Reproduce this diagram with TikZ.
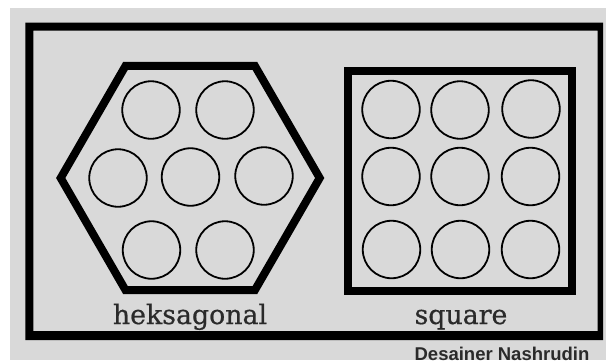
\documentclass[tikz,border=0pt]{standalone}
\usepackage{fontspec}
\newfontfamily\labelfont[FakeBold=0.6]{DejaVu Serif}
\newfontfamily\signfont{Liberation Sans}
\definecolor{bggray}{HTML}{D9D9D9}
\definecolor{txtgray}{HTML}{2A2A2A}
\begin{document}
\begin{tikzpicture}[x=1pt,y=-1pt,
  cell/.style={circle,draw=black,line width=1.8pt,minimum size=57.5pt,inner sep=0pt},
  bigline/.style={draw=black,line width=8pt,line join=miter},
  lbl/.style={anchor=base,text=txtgray,inner sep=0pt,font=\labelfont\fontsize{26.8}{30}\selectfont},
  sign/.style={anchor=base,text=txtgray,inner sep=0pt,font=\signfont\bfseries\fontsize{18.5}{20}\selectfont}]
\useasboundingbox (0,0) rectangle (606,360);
\clip (0,0) rectangle (606,360);
% background
\fill[bggray] (10,7.5) rectangle (606,360);
% outer frame
\fill[black,even odd rule] (25.3,22.7) rectangle (603,340) (33.3,30.7) rectangle (597.5,331);
% hexagon
\draw[bigline] (60.7,178) -- (125.5,65.9) -- (254.9,65.9) -- (319.7,178) -- (254.9,290.1) -- (125.5,290.1) -- cycle;
% square box
\draw[bigline] (348,70.5) rectangle (571.5,290.5);
% hexagonal circles
\node[cell] (h1) at (151,110) {};
\node[cell] (h2) at (225,110) {};
\node[cell] (h3) at (118,178) {};
\node[cell] (h4) at (190.5,177) {};
\node[cell] (h5) at (264,176) {};
\node[cell] (h6) at (151.5,250) {};
\node[cell] (h7) at (225,250) {};
% square circles
\node[cell] (s1) at (391,109.5) {};
\node[cell] (s2) at (460,110) {};
\node[cell] (s3) at (531,109) {};
\node[cell] (s4) at (391,176.5) {};
\node[cell] (s5) at (460,176.5) {};
\node[cell] (s6) at (530.5,176.5) {};
\node[cell] (s7) at (391.5,249.5) {};
\node[cell] (s8) at (460.5,249.5) {};
\node[cell] (s9) at (530.5,249.5) {};
% labels
\node[lbl] (lhex) at (190,324) {heksagonal};
\node[lbl] (lsq) at (461,324) {square};
\node[sign] (author) at (502,360) {Desainer Nashrudin};
\end{tikzpicture}
\end{document}
